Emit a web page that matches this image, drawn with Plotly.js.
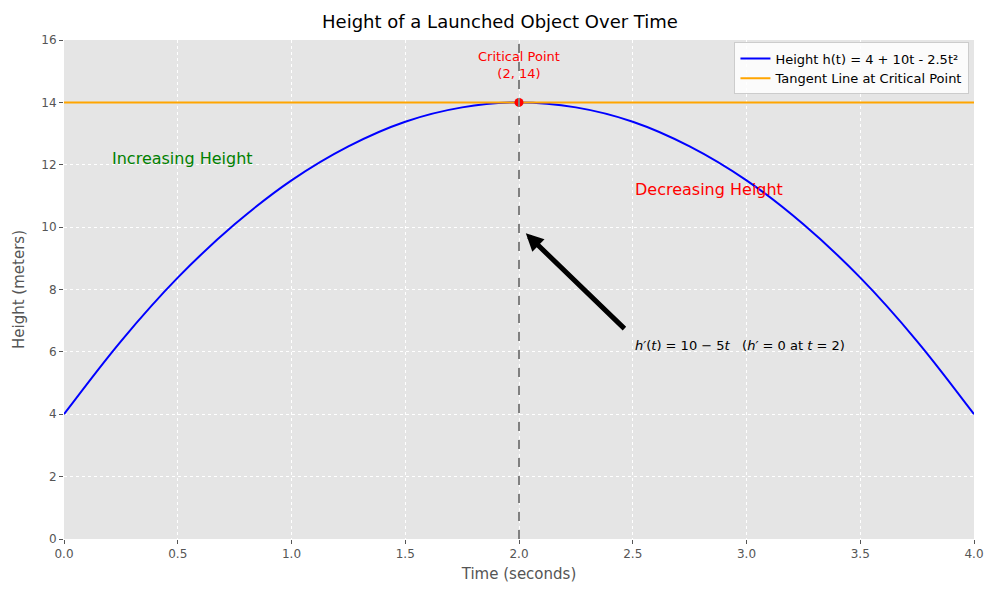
<!DOCTYPE html>
<html>
<head>
<script src="https://cdn.plot.ly/plotly-3.0.1.min.js"></script>
<style>body{margin:0}</style>
</head>
<body>
<div id="chart" style="width:1000px;height:600px"></div>
<script>
// values
var timeVals = [0, 0.25, 0.5, 0.75, 1, 1.25, 1.5, 1.75, 2, 2.25, 2.5, 2.75, 3, 3.25, 3.5, 3.75, 4];
var heightVals = [4, 6.34, 8.38, 10.09, 11.5, 12.59, 13.38, 13.84, 14, 13.84, 13.38, 12.59, 11.5, 10.09, 8.38, 6.34, 4];
var tangentX = [0, 4];
var tangentY = [14, 14];
var critX = [2];
var critY = [14];

var trace1 = {
  x: timeVals, y: heightVals, mode: 'lines', line: {color: 'blue', width: 2, shape: 'spline'},
  name: 'Height h(t) = 4 + 10t - 2.5t²'
};
var trace2 = {
  x: tangentX, y: tangentY, mode: 'lines', line: {color: 'orange', width: 2},
  name: 'Tangent Line at Critical Point'
};
var trace3 = {
  x: critX, y: critY, mode: 'markers', marker: {color: 'red', size: 9}, showlegend: false
};

var layout = {
  width: 1000, height: 600,
  margin: {l: 64, r: 26, t: 40, b: 61},
  paper_bgcolor: 'white', plot_bgcolor: '#e5e5e5',
  font: {family: 'DejaVu Sans', color: '#444'},
  title: {text: 'Height of a Launched Object Over Time', font: {size: 18, color: 'black'}, x: 0.5, y: 0.975},
  xaxis: {
    title: {text: 'Time (seconds)', font: {size: 15, color: '#555'}, standoff: 8},
    range: [0, 4], dtick: 0.5, tickformat: '.1f', ticks: 'outside', ticklen: 4, tickcolor: '#555',
    gridcolor: 'white', griddash: 'dot', zeroline: false, tickfont: {size: 12, color: '#555'}, automargin: false
  },
  yaxis: {
    title: {text: 'Height (meters)', font: {size: 15, color: '#555'}},
    range: [0, 16], dtick: 2, ticks: 'outside', ticklen: 4, tickcolor: '#555',
    gridcolor: 'white', griddash: 'dot', zeroline: false, tickfont: {size: 12, color: '#555'}
  },
  legend: {x: 0.995, y: 0.995, xanchor: 'right', yanchor: 'top', bgcolor: 'rgba(255,255,255,0.85)',
    bordercolor: '#ccc', borderwidth: 1, font: {size: 13, color: 'black'}},
  shapes: [{type: 'line', x0: 2, x1: 2, y0: 0, y1: 16, line: {color: 'gray', width: 2, dash: 'dash'}}],
  annotations: [
    {x: 2, y: 15.2, text: 'Critical Point<br>(2, 14)', showarrow: false, font: {color: 'red', size: 13}},
    {x: 0.2, y: 12.2, xanchor: 'left', text: 'Increasing Height', showarrow: false, font: {color: 'green', size: 16}},
    {x: 2.5, y: 11.2, xanchor: 'left', text: 'Decreasing Height', showarrow: false, font: {color: 'red', size: 16}},
    {x: 2.5, y: 6.2, xanchor: 'left', text: "<i>h′</i>(<i>t</i>) = 10 − 5<i>t</i>   (<i>h′</i> = 0 at <i>t</i> = 2)", showarrow: false, font: {color: 'black', size: 13}},
    {x: 2.03, y: 9.8, ax: 2.47, ay: 6.7, axref: 'x', ayref: 'y', text: '', showarrow: true,
      arrowhead: 2, arrowsize: 0.7, arrowwidth: 5, arrowcolor: 'black'}
  ]
};

Plotly.newPlot('chart', [trace1, trace2, trace3], layout, {displayModeBar: false});
</script>
</body>
</html>
